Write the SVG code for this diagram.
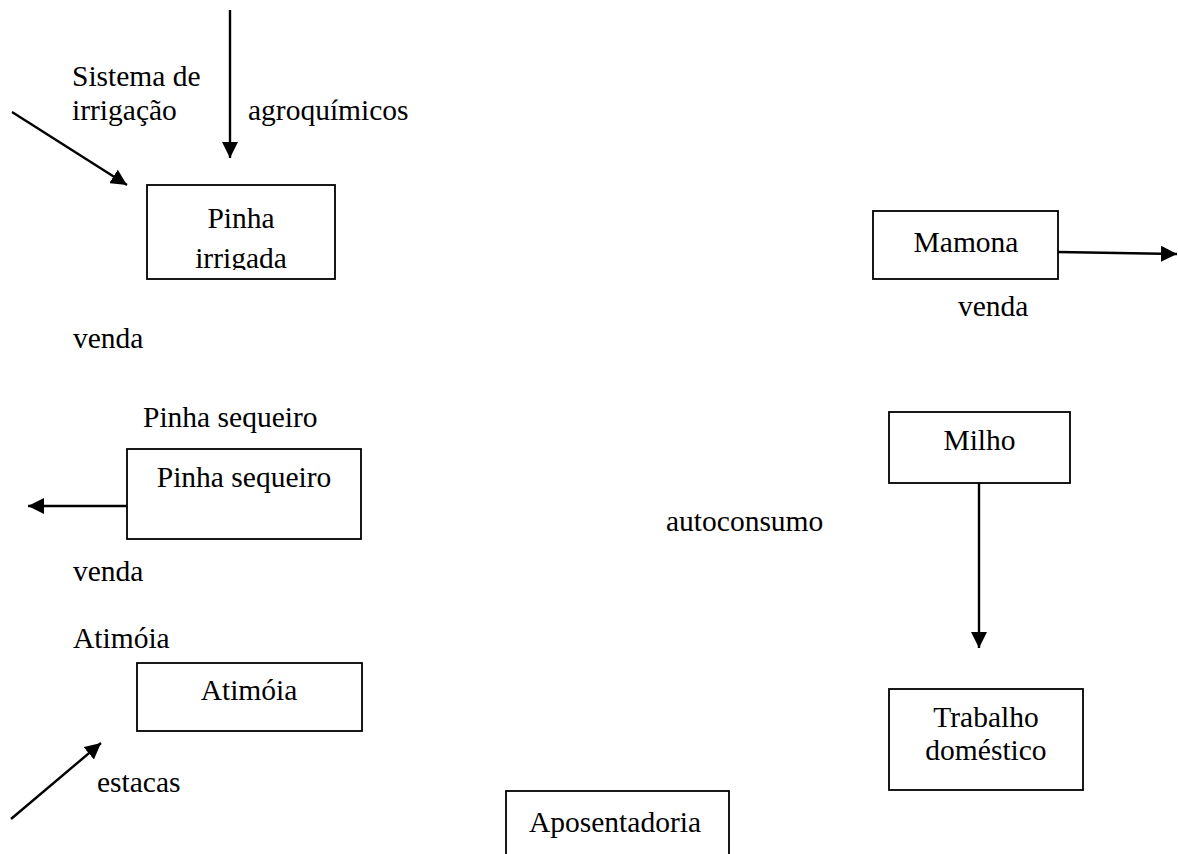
<svg xmlns="http://www.w3.org/2000/svg" width="1178" height="854" viewBox="0 0 1178 854">
<style>
text{font-family:'Liberation Serif','DejaVu Serif','Times New Roman',serif;font-size:29.5px;fill:#000}
.mid{text-anchor:middle}
.box{fill:#fff;stroke:#000;stroke-width:1.8}
.arr{stroke:#000;stroke-width:2.4;fill:none;marker-end:url(#ah)}
</style>
<defs>
<marker id="ah" markerUnits="userSpaceOnUse" markerWidth="17" markerHeight="16" refX="16" refY="8" orient="auto">
<path d="M0,0 L16,8 L0,16 z" fill="#000"/>
</marker>
<clipPath id="clipPI"><rect x="147" y="185" width="188" height="85"/></clipPath>
</defs>
<rect width="1178" height="854" fill="#fff"/>

<g id="connectors">
<line class="arr" x1="230" y1="10" x2="230" y2="158"/>
<line class="arr" x1="12" y1="112" x2="127" y2="185"/>
<line class="arr" x1="127" y1="506" x2="28" y2="506"/>
<line class="arr" x1="11" y1="819" x2="101" y2="743"/>
<line class="arr" x1="1058" y1="252" x2="1177" y2="254"/>
<line class="arr" x1="979" y1="483" x2="979" y2="648"/>
</g>

<g id="labels" font-family="Liberation Serif, serif">
<text x="72" y="86">Sistema de</text>
<text x="72" y="120">irrigação</text>
<text x="248" y="120">agroquímicos</text>
<text x="73" y="348">venda</text>
<text x="143" y="427">Pinha sequeiro</text>
<text x="73" y="581">venda</text>
<text x="73" y="648">Atimóia</text>
<text x="97" y="792">estacas</text>
<text x="666" y="531">autoconsumo</text>
<text x="958" y="316">venda</text>
</g>

<g id="node-pinha-irrigada">
<rect class="box" x="147" y="185" width="188" height="94"/>
<g clip-path="url(#clipPI)">
<text class="mid" x="241" y="228">Pinha</text>
<text class="mid" x="241" y="268">irrigada</text>
</g>
</g>

<g id="node-pinha-sequeiro">
<rect class="box" x="127" y="449" width="234" height="90"/>
<text class="mid" x="244" y="487">Pinha sequeiro</text>
</g>

<g id="node-atimoia">
<rect class="box" x="137" y="663" width="225" height="68"/>
<text class="mid" x="249" y="700">Atimóia</text>
</g>

<g id="node-aposentadoria">
<rect class="box" x="506" y="791" width="223" height="80"/>
<text class="mid" x="615" y="832">Aposentadoria</text>
</g>

<g id="node-mamona">
<rect class="box" x="873" y="211" width="185" height="68"/>
<text class="mid" x="966" y="252">Mamona</text>
</g>

<g id="node-milho">
<rect class="box" x="889" y="412" width="181" height="71"/>
<text class="mid" x="979.5" y="450">Milho</text>
</g>

<g id="node-trabalho">
<rect class="box" x="889" y="689" width="194" height="101"/>
<text class="mid" x="986" y="727">Trabalho</text>
<text class="mid" x="986" y="760">doméstico</text>
</g>
</svg>
